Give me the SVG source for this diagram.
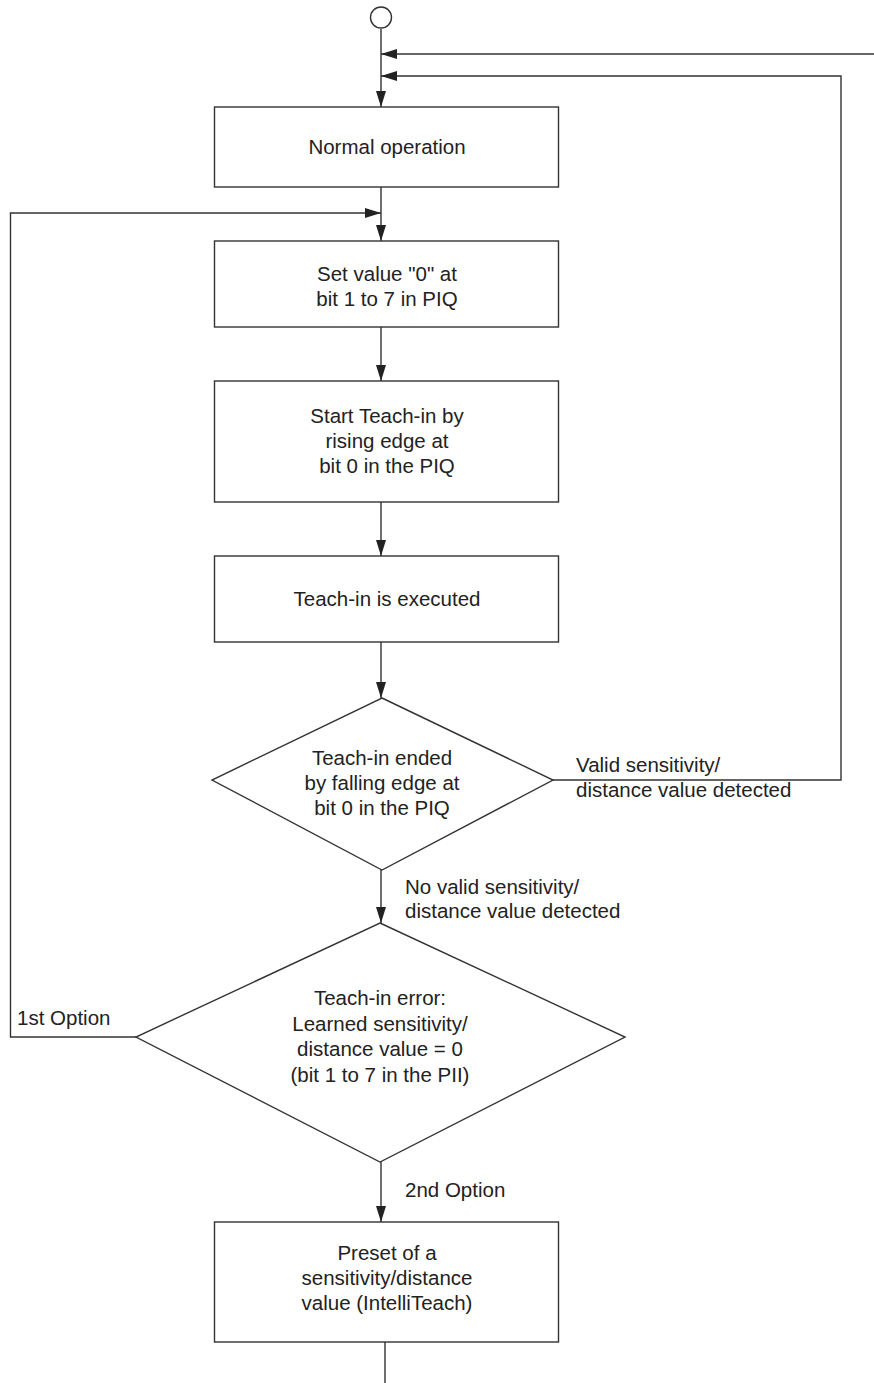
<svg xmlns="http://www.w3.org/2000/svg" width="874" height="1383" viewBox="0 0 874 1383">
<style>
.box{fill:#fff;stroke:#333;stroke-width:1.4}
.ln{fill:none;stroke:#333;stroke-width:1.4}
.t{font-family:"Liberation Sans",Arial,sans-serif;font-size:20.5px;fill:#222;text-anchor:middle}
.l{font-family:"Liberation Sans",Arial,sans-serif;font-size:20.5px;fill:#222}
</style>
<defs>
<marker id="ah" viewBox="0 0 16 10" refX="16" refY="5" markerWidth="16" markerHeight="10" markerUnits="userSpaceOnUse" orient="auto">
<path d="M0,0 L16,5 L0,10 Z" fill="#222"/>
</marker>
</defs>
<rect width="874" height="1383" fill="#fff"/>
<g id="connectors">
<path class="ln" d="M381,29 V107" marker-end="url(#ah)"/>
<path class="ln" d="M874,54 H381" marker-end="url(#ah)"/>
<path class="ln" d="M553,780 H841 V76 H381" marker-end="url(#ah)"/>
<path class="ln" d="M381,187 V241" marker-end="url(#ah)"/>
<path class="ln" d="M136,1037 H10.5 V213 H381" marker-end="url(#ah)"/>
<path class="ln" d="M381,327 V381" marker-end="url(#ah)"/>
<path class="ln" d="M381,502 V556" marker-end="url(#ah)"/>
<path class="ln" d="M381,642 V698" marker-end="url(#ah)"/>
<path class="ln" d="M381,870 V923" marker-end="url(#ah)"/>
<path class="ln" d="M381,1162 V1222" marker-end="url(#ah)"/>
<path class="ln" d="M385,1342 V1383"/>
<text class="l" x="576" y="772">Valid sensitivity/</text>
<text class="l" x="576" y="797">distance value detected</text>
<text class="l" x="405" y="894">No valid sensitivity/</text>
<text class="l" x="405" y="918">distance value detected</text>
<text class="l" x="17" y="1025">1st Option</text>
<text class="l" x="405" y="1197">2nd Option</text>
</g>
<g id="start">
<circle class="box" cx="381" cy="17.5" r="10.5"/>
</g>
<g id="normal">
<rect class="box" x="214.5" y="107" width="344" height="80"/>
<text class="t" x="387" y="154">Normal operation</text>
</g>
<g id="setvalue">
<rect class="box" x="214.5" y="241" width="344" height="86"/>
<text class="t" x="387" y="281">Set value "0" at</text>
<text class="t" x="387" y="306">bit 1 to 7 in PIQ</text>
</g>
<g id="startteach">
<rect class="box" x="214.5" y="381" width="344" height="121"/>
<text class="t" x="387" y="423">Start Teach-in by</text>
<text class="t" x="387" y="448">rising edge at</text>
<text class="t" x="387" y="473">bit 0 in the PIQ</text>
</g>
<g id="executed">
<rect class="box" x="214.5" y="556" width="344" height="86"/>
<text class="t" x="387" y="606">Teach-in is executed</text>
</g>
<g id="decision1">
<polygon class="box" points="382,698 553,780 382,870 212,780"/>
<text class="t" x="382" y="765">Teach-in ended</text>
<text class="t" x="382" y="790">by falling edge at</text>
<text class="t" x="382" y="815">bit 0 in the PIQ</text>
</g>
<g id="decision2">
<polygon class="box" points="380,923 625,1037 380,1162 136,1037"/>
<text class="t" x="380" y="1005">Teach-in error:</text>
<text class="t" x="380" y="1031">Learned sensitivity/</text>
<text class="t" x="380" y="1056">distance value = 0</text>
<text class="t" x="380" y="1082">(bit 1 to 7 in the PII)</text>
</g>
<g id="preset">
<rect class="box" x="214.5" y="1222" width="344" height="120"/>
<text class="t" x="387" y="1260">Preset of a</text>
<text class="t" x="387" y="1285">sensitivity/distance</text>
<text class="t" x="387" y="1310">value (IntelliTeach)</text>
</g>
</svg>
